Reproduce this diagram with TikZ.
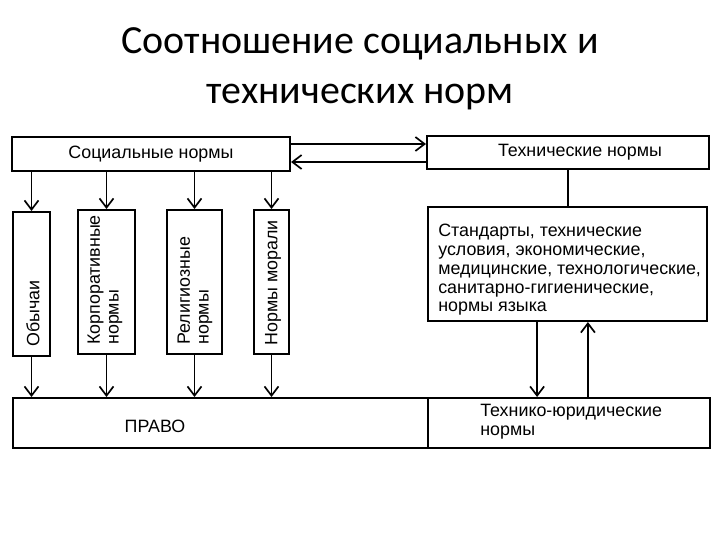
\documentclass[tikz,border=0pt]{standalone}
\usepackage{fontspec}
\setmainfont{Liberation Sans}
\newfontfamily\titlefont{Carlito}
\usetikzlibrary{arrows.meta,positioning}
\tikzset{
  normbox/.style={draw, line width=1.4pt, inner sep=0pt},
  boxtext/.style={font=\fontsize{12.7}{13.3}\selectfont, inner sep=0pt},
  vtext/.style={boxtext, rotate=90, anchor=west, align=left},
  arrow/.style={-{Straight Barb[length=2.3mm,width=3.5mm,line width=1.2pt]}, line width=1pt},
  link/.style={line width=1pt},
}
\begin{document}
\begin{tikzpicture}[x=0.025cm, y=-0.025cm]
\useasboundingbox (0,0) rectangle (720,540);

% title
\node[align=center, font=\titlefont\fontsize{28.4}{35.6}\selectfont] (title) at (360,69)
  {Соотношение социальных и\\технических норм};

% upper row
\node[normbox, minimum width=6.95cm, minimum height=0.85cm, boxtext] (social) at (151,154)
  {Социальные нормы};
\node[normbox, minimum width=7.05cm, minimum height=0.825cm, boxtext] (tech) at (568,152.5)
  {\hspace*{6mm}Технические нормы};

% social norms, one column each
\node[normbox, minimum width=0.925cm, minimum height=3.6cm] (obych) at (31.5,284) {};
\node[normbox, minimum width=1.425cm, minimum height=3.6cm] (korp) at (106.5,282) {};
\node[normbox, minimum width=1.375cm, minimum height=3.6cm] (relig) at (194.5,282) {};
\node[normbox, minimum width=0.875cm, minimum height=3.6cm] (moral) at (271.5,282) {};
\node[vtext] (obychtext) at (33,347) {Обычаи};
\node[vtext] (korptext) at (105,345) {Корпоративные\\нормы};
\node[vtext] (religtext) at (195,345) {Религиозные\\нормы};
\node[vtext] (moraltext) at (273,346) {Нормы морали};

% technical norms
\node[normbox, minimum width=6.975cm, minimum height=2.85cm] (std) at (567.5,264) {};
\node[boxtext, align=left, anchor=west] (stdtext) at (438,270)
  {Стандарты, технические\\условия, экономические,\\медицинские, технологические,\\
   санитарно-гигиенические,\\нормы языка};

% bottom row
\node[normbox, minimum width=10.375cm, minimum height=1.25cm] (pravo) at (220.5,423) {};
\node[normbox, minimum width=7.05cm, minimum height=1.25cm] (tjn) at (569,423) {};
\node[boxtext] (pravotext) at (155,426) {ПРАВО};
\node[boxtext, align=left, anchor=west] (tjntext) at (480,422)
  {Технико-юридические\\нормы};

% connectors
\draw[arrow] ([yshift=2.5mm]social.east) -- ([yshift=2.5mm]social.east -| tech.west);
\draw[arrow] ([yshift=-2mm]social.east -| tech.west) -- ([yshift=-2mm]social.east);
\foreach \n in {obych,korp,relig,moral} {
  \draw[arrow] (\n.north |- social.south) -- (\n.north);
  \draw[arrow] (\n.south) -- (\n.south |- pravo.north);
}
\draw[link] (tech.south) -- (tech.south |- std.north);
\draw[arrow] ([xshift=-7.6mm]std.south) -- ([xshift=-7.6mm]std.south |- tjn.north);
\draw[arrow] ([xshift=5.1mm]std.south |- tjn.north) -- ([xshift=5.1mm]std.south);

\end{tikzpicture}
\end{document}
